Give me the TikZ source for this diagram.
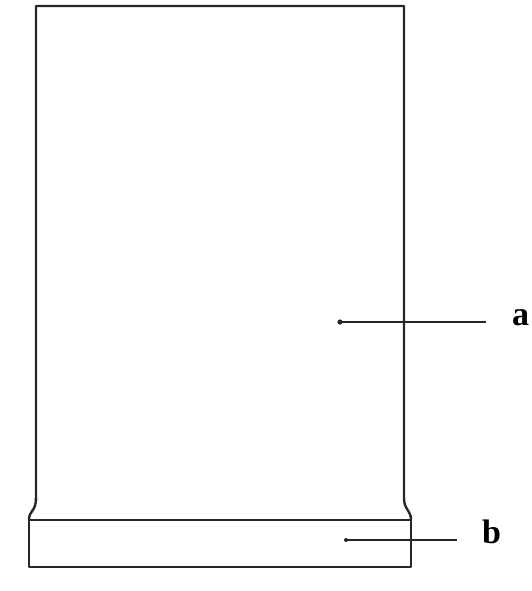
\documentclass[tikz,border=0pt]{standalone}
\usepackage{fontspec}
\setmainfont{Liberation Serif}
\begin{document}
\begin{tikzpicture}[x=1pt,y=-1pt,
  outline/.style={line width=2.4pt, line join=round, draw=black!85},
  leader/.style={line width=1.8pt, draw=black!85},
  lbl/.style={font=\fontsize{34}{34}\selectfont\bfseries, inner sep=0pt, anchor=base west}]
\useasboundingbox (0,0) rectangle (531,591);
% body outline
\coordinate (tl) at (36,6);
\coordinate (tr) at (404,6);
\draw[outline] (36,500) -- (tl) -- (tr) -- (404,498)
  .. controls (404,510) and (411,510) .. (411,520);
\draw[outline] (36,498) .. controls (36,512) and (29,510) .. (29,520);
% base
\draw[outline] (29,520) rectangle (411,567);
% leaders
\coordinate (pa) at (340,322);
\coordinate (pb) at (346,540);
\node[lbl] (a) at (512,325) {a};
\node[lbl] (b) at (482,543) {b};
\fill[black!85] (pa) circle (2.6);
\fill[black!85] (pb) circle (2.0);
\draw[leader] (pa) -- (486,322);
\draw[leader] (pb) -- (457,540);
\end{tikzpicture}
\end{document}
